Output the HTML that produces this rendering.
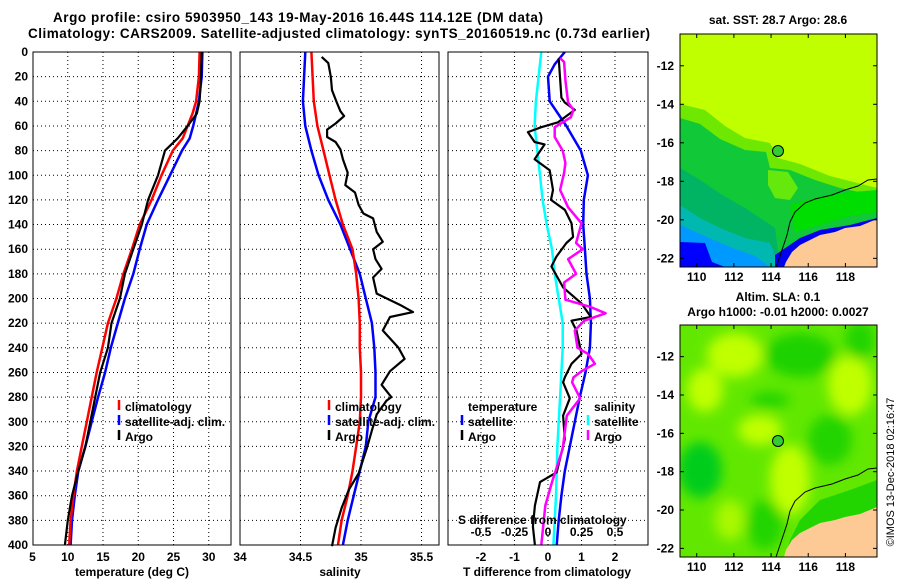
<!DOCTYPE html>
<html><head><meta charset="utf-8"><style>
html,body{margin:0;padding:0;background:#fff;}
svg{display:block;font-family:"Liberation Sans",sans-serif;font-weight:bold;}
</style></head><body>
<svg id="fig" width="900" height="580" viewBox="0 0 900 580" xmlns="http://www.w3.org/2000/svg">
<defs>
<filter id="blur" x="-20%" y="-20%" width="140%" height="140%"><feGaussianBlur stdDeviation="6"/></filter>
<clipPath id="clipM1"><rect x="680" y="34" width="197" height="233"/></clipPath>
<clipPath id="clipM2"><rect x="680" y="325" width="197" height="232"/></clipPath>
</defs>
<text x="298" y="22" text-anchor="middle" font-size="13.5" textLength="490">Argo profile: csiro 5903950_143 19-May-2016 16.44S 114.12E (DM data)</text>
<text x="339" y="38" text-anchor="middle" font-size="13.5" textLength="622">Climatology: CARS2009. Satellite-adjusted climatology: synTS_20160519.nc (0.73d earlier)</text>

<!-- Map 1 -->
<g clip-path="url(#clipM1)">
<rect x="680" y="34" width="197" height="233" fill="#c0ff00"/>
<polygon fill="#6ee800" points="680,104 705,110 725,126 745,138 770,143 778,158 800,164 830,176 877,188 877,267 680,267"/>
<polygon fill="#10c838" points="680,118 700,124 720,139 745,150 766,152 770,168 790,170 815,180 840,188 877,196 877,267 680,267"/>
<polygon fill="#7af000" opacity="0.8" points="768,170 788,172 798,188 790,200 775,198 768,185"/>
<polygon fill="#00b464" points="680,168 700,180 722,195 745,208 760,218 775,228 780,267 680,267"/>
<polygon fill="#00b8b0" points="680,205 700,218 720,228 745,238 770,243 780,267 680,267"/>
<polygon fill="#0099ff" points="680,225 700,234 730,247 755,256 770,267 680,267"/>
<polygon fill="#0000ff" points="680,242 705,243 712,262 725,267 680,267"/>
<polygon fill="#00dd00" points="790,205 815,198 840,193 877,190 877,212 850,216 830,222 810,228 795,232"/>
<polygon fill="#0000ee" points="775,255 800,238 820,230 850,225 877,218 877,225 840,232 815,240 790,258 785,267 775,267"/>
<polygon fill="#fdca96" points="877,219 860,226 845,228 835,232 820,235 810,240 800,245 792,252 786,262 784,267 877,267"/>
<polyline fill="none" stroke="#000" stroke-width="1" points="877,179 868,180 858,186 845,190 832,195 815,199 805,203 795,212 790,222 787,235 782,250 778,262 776,267"/>
<circle cx="778" cy="151" r="5.5" fill="#33cc33" stroke="#000" stroke-width="1"/>
</g>
<rect x="680" y="34" width="197" height="233" fill="none" stroke="#000" stroke-width="1"/>
<text x="778" y="24" text-anchor="middle" font-size="12">sat. SST: 28.7 Argo: 28.6</text>

<!-- Map 2 -->
<g clip-path="url(#clipM2)">
<rect x="680" y="325" width="197" height="232" fill="#62e800"/>
<g filter="url(#blur)">
<ellipse cx="735" cy="355" rx="28" ry="22" fill="#c0ff00"/>
<ellipse cx="705" cy="390" rx="18" ry="22" fill="#c0ff00"/>
<ellipse cx="760" cy="430" rx="22" ry="15" fill="#c0ff00"/>
<ellipse cx="790" cy="480" rx="20" ry="35" fill="#c0ff00"/>
<ellipse cx="850" cy="385" rx="22" ry="30" fill="#c0ff00"/>
<ellipse cx="730" cy="520" rx="15" ry="20" fill="#a8f800"/>
<ellipse cx="800" cy="355" rx="35" ry="22" fill="#1ed200"/>
<ellipse cx="700" cy="470" rx="22" ry="28" fill="#00cc1a"/>
<ellipse cx="770" cy="400" rx="20" ry="8" fill="#22d400"/>
<ellipse cx="830" cy="440" rx="22" ry="25" fill="#22d400"/>
<ellipse cx="765" cy="525" rx="18" ry="25" fill="#22d400"/>
<ellipse cx="860" cy="340" rx="15" ry="20" fill="#22d400"/>
</g>
<polygon fill="#22d400" points="877,480 850,490 820,500 800,520 790,540 785,557 877,557"/>
<polygon fill="#fdca96" points="877,507 860,514 845,517 835,520 820,523 810,528 800,533 792,540 786,550 784,557 877,557"/>
<polyline fill="none" stroke="#000" stroke-width="1" points="877,468 868,469 858,475 845,479 832,484 815,488 805,492 795,501 790,511 787,524 782,539 778,551 776,557"/>
<circle cx="778" cy="441" r="5.5" fill="#33cc33" stroke="#000" stroke-width="1"/>
</g>
<rect x="680" y="325" width="197" height="232" fill="none" stroke="#000" stroke-width="1"/>
<text x="778" y="301" text-anchor="middle" font-size="12">Altim. SLA: 0.1</text>
<text x="778" y="316" text-anchor="middle" font-size="12">Argo h1000: -0.01 h2000: 0.0027</text>
<text transform="translate(894,472) rotate(-90)" text-anchor="middle" font-size="11" font-weight="normal">©IMOS 13-Dec-2018 02:16:47</text>

<g id="plots"></g>
</svg>
<script>
// ---- data ----
var depthTicks = [0,20,40,60,80,100,120,140,160,180,200,220,240,260,280,300,320,340,360,380,400];
// temperature (deg C)
var tempDepths = [0,20,40,50,60,70,80,100,120,140,160,180,200,220,240,260,280,300,320,340,360,380,400];
var tempArgo = [29.0,28.9,28.7,28.3,27.0,25.6,23.8,22.8,21.4,20.5,19.3,18.1,17.4,16.2,15.7,14.6,13.9,13.2,12.5,11.5,10.6,10.0,9.6];
var tempClim = [28.7,28.6,28.2,27.7,27.0,26.3,24.9,23.3,21.9,20.2,19.1,17.9,16.9,15.7,14.9,14.1,13.4,12.7,12.0,11.3,10.8,10.4,10.2];
var tempSat  = [29.1,29.0,28.6,28.2,27.8,27.3,26.2,24.5,22.8,21.2,20.2,19.3,18.1,17.1,16.1,15.3,14.3,13.4,12.5,11.5,11.0,10.6,10.4];
var tempTicks = [5,10,15,20,25,30];
// salinity
var salDepths = [0,20,40,60,80,100,120,140,160,180,200,220,240,260,280,300,320,340,360,380,400];
var salClim = [34.59,34.60,34.61,34.64,34.69,34.74,34.79,34.85,34.93,34.96,34.98,34.99,34.99,35.00,35.00,34.99,34.96,34.93,34.89,34.84,34.81];
var salSat  = [34.54,34.53,34.52,34.54,34.59,34.65,34.73,34.83,34.91,34.99,35.04,35.09,35.11,35.12,35.12,35.06,35.04,34.99,34.94,34.89,34.85];
var argoSalDepths = [4,9,20,31,41,48,52,58,63,69,73,79,87,98,108,114,124,131,135,146,154,160,168,176,183,196,205,211,215,226,240,249,259,270,280,283,294,307,321,342,355,370,386,401];
var salArgo = [34.675,34.73,34.75,34.76,34.80,34.83,34.86,34.79,34.72,34.72,34.79,34.83,34.85,34.89,34.87,34.95,34.98,35.02,35.10,35.13,35.18,35.10,35.12,35.17,35.10,35.13,35.32,35.43,35.24,35.18,35.31,35.36,35.24,35.17,35.25,35.21,35.13,35.09,35.05,34.98,34.90,34.84,34.79,34.76];
var salTicks = [34,34.5,35,35.5];
// differences from climatology
var sDiffSatDepths = [0,20,40,60,80,100,120,140,160,180,200,220,240,260,280,300,320,340,360,380,400];
var sDiffSat = [-0.05,-0.07,-0.09,-0.10,-0.08,-0.06,-0.04,-0.01,0.03,0.05,0.08,0.11,0.11,0.10,0.09,0.08,0.07,0.065,0.06,0.05,0.04];
var tDiffSatDepths = [0,10,20,40,60,80,100,120,140,160,180,200,220,240,260,280,300,320,340,360,380,400];
var tDiffSat = [0.5,0.2,0.0,0.05,0.55,0.98,1.19,1.07,1.05,1.1,1.15,1.25,1.28,1.25,1.12,0.95,0.8,0.65,0.5,0.4,0.32,0.26];
var tDiffArgoDepths = [5,37,41,47,57,61,65,73,75,87,96,112,120,128,139,150,155,166,174,191,204,215,218,226,245,253,264,268,281,295,314,341,349,368,385,400];
var tDiffArgo = [0.32,0.4,0.5,0.8,0.3,-0.2,-0.6,-0.4,-0.1,-0.4,0.05,0.15,0.09,0.5,0.7,0.75,0.55,0.25,0.1,0.45,1.0,1.28,0.7,0.85,1.0,0.7,0.5,0.45,0.65,0.45,0.5,0.26,-0.24,-0.39,-0.45,-0.39];
var sDiffArgoDepths = [5,8,23,41,47,53,61,69,80,90,98,112,126,139,155,160,168,180,187,201,207,212,218,226,240,245,253,259,264,268,281,295,322,349,368,400];
var sDiffArgo = [0.09,0.12,0.13,0.15,0.19,0.17,0.05,0.05,0.11,0.13,0.12,0.09,0.15,0.25,0.21,0.26,0.15,0.21,0.12,0.13,0.32,0.43,0.27,0.2,0.22,0.3,0.35,0.25,0.19,0.18,0.24,0.14,0.11,0.03,-0.02,-0.05];
var tDiffTicks = [-2,-1,0,1,2];
var sDiffTicks = [-0.5,-0.25,0,0.25,0.5];
var sDiffTickLabels = ["-0.5","-0.25","0","0.25","0.5"];

// ---- axes ----
var NS = "http://www.w3.org/2000/svg";
var root = document.getElementById('plots');
var Y0 = 52, YB = 545;
function yD(d){ return Y0 + d*(YB-Y0)/400; }
function mk(tag, attrs, parent){ var e=document.createElementNS(NS,tag); for(var k in attrs) e.setAttribute(k,attrs[k]); (parent||root).appendChild(e); return e; }
function xT(t){ return 32.5 + (t-5)*7.05; }
function xS(s){ return 240 + (s-34)*121; }
function xTD(v){ return 548 + v*33.5; }
function xSD(v){ return 548 + v*134; }

function frame(x0,x1,name){
  var g = mk('g',{});
  
  
  depthTicks.forEach(function(d){
    if(d>0 && d<400){ var l=mk('line',{x1:x0,x2:x1,y1:yD(d),y2:yD(d),stroke:'#000','stroke-width':1,'stroke-dasharray':'1,3'},g);
        }
  });
  return g;
}
function vgrid(g,xs){ xs.forEach(function(x){ var l=mk('line',{x1:x,x2:x,y1:Y0,y2:YB,stroke:'#000','stroke-width':1,'stroke-dasharray':'1,3'},g);
    }); }
function box(g,x0,x1){ var r=mk('rect',{x:x0,y:Y0,width:x1-x0,height:YB-Y0,fill:'none',stroke:'#000','stroke-width':1},g);
    }
function line(g,xs,ds,fx,color,name,w){
  var pts = xs.map(function(v,i){ return fx(v).toFixed(1)+','+yD(ds[i]).toFixed(1); }).join(' ');
  var p = mk('polyline',{points:pts,fill:'none',stroke:color,'stroke-width':w||2.5,'stroke-linejoin':'round'},g);
  
  
}
function txt(g,x,y,s,anchor,size,name){ var t=mk('text',{x:x,y:y,'text-anchor':anchor||'start','font-size':size||12},g); t.textContent=s;
    return t; }
function legMark(g,x,y,color){ var l=mk('line',{x1:x,x2:x,y1:y-10,y2:y,stroke:color,'stroke-width':2.5},g);
    }

// depth labels
var yl = mk('g',{});


depthTicks.forEach(function(d){ txt(yl,28,yD(d)+4,String(d),'end',12,'depth-tick-label'); });

// Panel 1: temperature
var g1 = frame(33,231,'temperature-panel');
vgrid(g1, tempTicks.slice(1).map(xT));
line(g1,tempSat,tempDepths,xT,'#0000ff','temp-satellite-line');
line(g1,tempClim,tempDepths,xT,'#ff0000','temp-climatology-line');
line(g1,tempArgo,tempDepths,xT,'#000','temp-argo-line',2.2);
box(g1,33,231);
tempTicks.forEach(function(t){ txt(g1,xT(t),561,String(t),'middle',12,'temp-tick-label'); });
txt(g1,132,576,'temperature (deg C)','middle',12,'temp-axis-title');
legMark(g1,119,410,'#ff0000'); txt(g1,125,411,'climatology','start',12,'legend-climatology');
legMark(g1,119,425,'#0000ff'); txt(g1,125,426,'satellite-adj. clim.','start',12,'legend-satellite');
legMark(g1,119,440,'#000'); txt(g1,125,441,'Argo','start',12,'legend-argo');

// Panel 2: salinity
var g2 = frame(240,439,'salinity-panel');
vgrid(g2, salTicks.slice(1).map(xS));
line(g2,salSat,salDepths,xS,'#0000ff','sal-satellite-line');
line(g2,salClim,salDepths,xS,'#ff0000','sal-climatology-line');
line(g2,salArgo,argoSalDepths,xS,'#000','sal-argo-line',2.2);
box(g2,240,439);
salTicks.forEach(function(s){ txt(g2,xS(s),561,String(s),'middle',12,'sal-tick-label'); });
txt(g2,340,576,'salinity','middle',12,'sal-axis-title');
legMark(g2,329,410,'#ff0000'); txt(g2,335,411,'climatology','start',12,'legend-climatology');
legMark(g2,329,425,'#0000ff'); txt(g2,335,426,'satellite-adj. clim.','start',12,'legend-satellite');
legMark(g2,329,440,'#000'); txt(g2,335,441,'Argo','start',12,'legend-argo');

// Panel 3: differences
var g3 = frame(448,648,'difference-panel');
vgrid(g3, tDiffTicks.map(xTD));
line(g3,sDiffSat,sDiffSatDepths,xSD,'#00ffff','sdiff-satellite-line');
line(g3,tDiffSat,tDiffSatDepths,xTD,'#0000ff','tdiff-satellite-line');
line(g3,tDiffArgo,tDiffArgoDepths,xTD,'#000','tdiff-argo-line',2.2);
line(g3,sDiffArgo,sDiffArgoDepths,xSD,'#ff00ff','sdiff-argo-line');
box(g3,448,648);
tDiffTicks.forEach(function(v){ txt(g3,xTD(v),561,String(v),'middle',12,'tdiff-tick-label'); });
txt(g3,547,576,'T difference from climatology','middle',12,'tdiff-axis-title');
sDiffTicks.forEach(function(v,i){ txt(g3,xSD(v),536,sDiffTickLabels[i],'middle',12,'sdiff-tick-label'); });
txt(g3,458,524,'S difference from climatology','start',12,'sdiff-axis-title');
txt(g3,468,411,'temperature','start',12,'legend-temperature-header');
legMark(g3,462,425,'#0000ff'); txt(g3,468,426,'satellite','start',12,'legend-t-satellite');
legMark(g3,462,440,'#000'); txt(g3,468,441,'Argo','start',12,'legend-t-argo');
txt(g3,594,411,'salinity','start',12,'legend-salinity-header');
legMark(g3,588,425,'#00ffff'); txt(g3,594,426,'satellite','start',12,'legend-s-satellite');
legMark(g3,588,440,'#ff00ff'); txt(g3,594,441,'Argo','start',12,'legend-s-argo');

// Map axes
var lonTicks = [110,112,114,116,118];
var latTicks = [-12,-14,-16,-18,-20,-22];
function mapAxes(top,bottom,latTop,latBot,name){
  var g = mk('g',{});
  
  
  function mx(lon){ return 680 + (lon-109.1)*197/10.6; }
  function my(lat){ return top + (latTop-lat)*(bottom-top)/(latTop-latBot); }
  lonTicks.forEach(function(l){
    mk('line',{x1:mx(l),x2:mx(l),y1:top,y2:top+4,stroke:'#000'},g);
    mk('line',{x1:mx(l),x2:mx(l),y1:bottom,y2:bottom-4,stroke:'#000'},g);
    txt(g,mx(l),bottom+14,String(l),'middle',12,'lon-tick-label');
  });
  latTicks.forEach(function(l){
    mk('line',{x1:680,x2:684,y1:my(l),y2:my(l),stroke:'#000'},g);
    mk('line',{x1:877,x2:873,y1:my(l),y2:my(l),stroke:'#000'},g);
    txt(g,674,my(l)+4,String(l),'end',12,'lat-tick-label');
  });
}
mapAxes(34,267,-10.35,-22.45,'sst-map-axes');
mapAxes(325,557,-10.35,-22.45,'sla-map-axes');
</script>
</body></html>
